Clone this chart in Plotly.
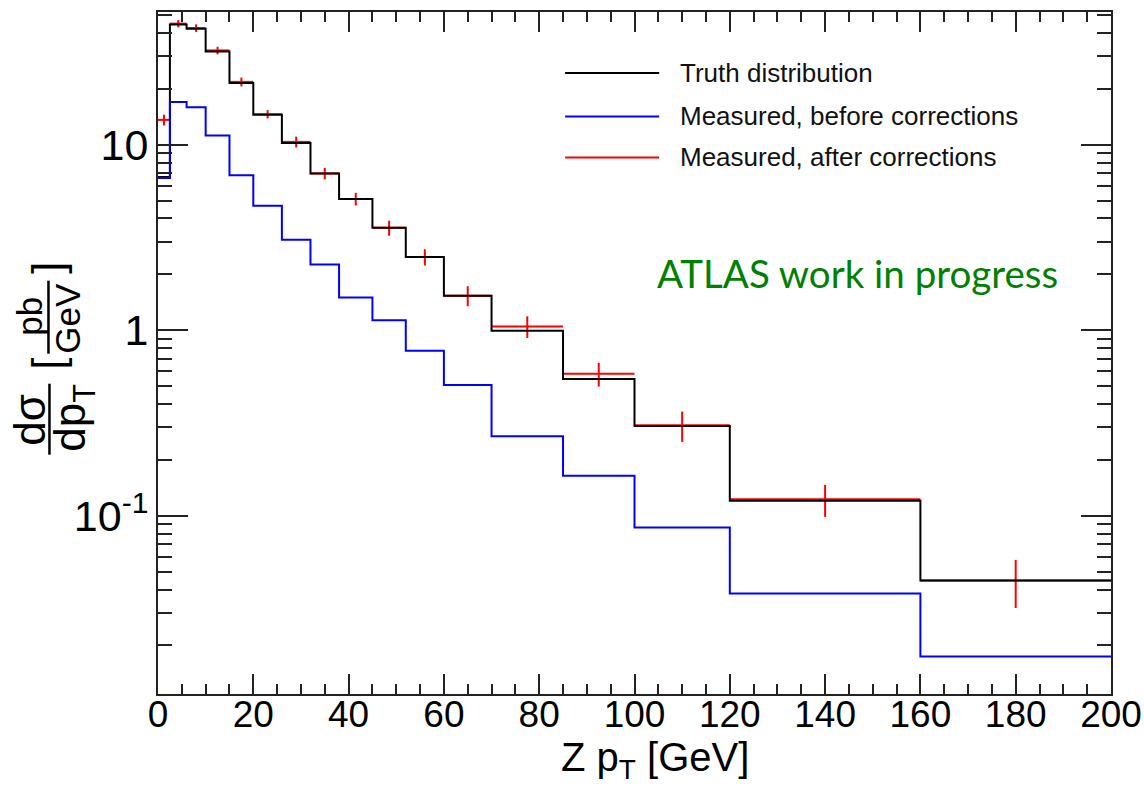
import plotly.graph_objects as go

# ---------------- data ----------------
bin_edges = [0, 2.5, 6, 10, 15, 20, 26, 32, 38, 45, 52, 60, 70, 85, 100, 120, 160, 200]
truth = [6.7, 44.4, 42.1, 31.8, 21.5, 14.5, 10.2, 6.98, 5.09, 3.56, 2.48, 1.535,
         0.994, 0.545, 0.304, 0.1205, 0.0448]
measured_before = [6.61, 17.0, 15.9, 11.2, 6.84, 4.69, 3.07, 2.26, 1.50, 1.13, 0.775,
                   0.506, 0.268, 0.1644, 0.0864, 0.0381, 0.0174]
measured_after = [13.6, 44.9, 42.5, 32.2, 21.8, 14.6, 10.35, 7.0, 5.1, 3.56, 2.48, 1.535,
                  1.048, 0.582, 0.307, 0.1226, 0.0448]
after_err = [0.9, 2.0, 2.0, 1.5, 1.2, 0.75, 0.7, 0.5, 0.4, 0.33, 0.25, 0.19, 0.14,
             0.085, 0.057, 0.024, 0.013]

x_tick_vals = list(range(0, 201, 20))
y_tick_vals = [0.1, 1, 10]
y_tick_text = ["10<sup>-1</sup>", "1", "10"]
y_minor_vals = [m * 10.0 ** k for k in (-2, -1, 0, 1) for m in range(2, 10)]
legend_labels = ["Truth distribution", "Measured, before corrections", "Measured, after corrections"]
colors = ["#000000", "#0000ff", "#ff0000"]

# ---------------- derived ----------------
centers = [(a + b) / 2 for a, b in zip(bin_edges[:-1], bin_edges[1:])]
half_w = [(b - a) / 2 for a, b in zip(bin_edges[:-1], bin_edges[1:])]


def step(vals):
    return list(vals) + [vals[-1]]


fig = go.Figure()
# red corrected measurement first, truth drawn over it (as in the reference)
fig.add_trace(go.Scatter(x=centers, y=measured_after, mode="markers", name=legend_labels[2],
                         marker=dict(size=1, color=colors[2]),
                         error_x=dict(type="data", array=half_w, symmetric=True, width=0,
                                      thickness=2, color=colors[2]),
                         error_y=dict(type="data", array=after_err, symmetric=True, width=0,
                                      thickness=2, color=colors[2])))
fig.add_trace(go.Scatter(x=bin_edges, y=step(truth), mode="lines", name=legend_labels[0],
                         line=dict(color=colors[0], width=2, shape="hv")))
fig.add_trace(go.Scatter(x=bin_edges, y=step(measured_before), mode="lines", name=legend_labels[1],
                         line=dict(color=colors[1], width=2, shape="hv")))

# ---------------- layout ----------------
L, R, T, B = 158, 1110.7, 12.3, 694.3
W, H = 1144, 798
pw, ph = R - L, B - T


def px(xp):
    return (xp - L) / pw


def py(yp):
    return (B - yp) / ph


axis_font = "Liberation Sans, Arial, sans-serif"

fig.update_layout(
    width=W, height=H, showlegend=False,
    margin=dict(l=L, r=W - R, t=T, b=H - B, pad=0, autoexpand=False),
    plot_bgcolor="white", paper_bgcolor="white",
    font=dict(family=axis_font, color="black"),
    xaxis=dict(range=[0, 200], tickmode="array", tickvals=x_tick_vals, automargin=False,
               ticks="inside", ticklen=20, tickwidth=1.5, tickcolor="#222",
               showline=True, linecolor="#222", linewidth=2, mirror="allticks",
               showgrid=False, zeroline=False,
               tickfont=dict(size=37, family=axis_font, color="black"),
               ticklabelstandoff=-13,
               minor=dict(dtick=5, tick0=0, ticks="inside", ticklen=10, tickwidth=1.5,
                          tickcolor="#222", showgrid=False)),
    yaxis=dict(type="log", range=[-1.961, 1.715], tickmode="array", automargin=False,
               tickvals=y_tick_vals, ticktext=y_tick_text,
               ticks="inside", ticklen=30, tickwidth=1.5, tickcolor="#222",
               showline=True, linecolor="#222", linewidth=2, mirror="allticks",
               showgrid=False, zeroline=False,
               tickfont=dict(size=43, family=axis_font, color="black"),
               ticklabelstandoff=-1,
               minor=dict(tickmode="array", tickvals=y_minor_vals, ticks="inside",
                          ticklen=14, tickwidth=1.5, tickcolor="#222", showgrid=False)),
)

shapes = []
annotations = []

# manual legend (long ROOT-style line samples)
leg_rows = [73.3, 116.7, 157.7]
for lab, col, yr in zip(legend_labels, colors, leg_rows):
    shapes.append(dict(type="line", xref="paper", yref="paper", x0=px(565), x1=px(659),
                       y0=py(yr), y1=py(yr), line=dict(color=col, width=2)))
    annotations.append(dict(text=lab, xref="paper", yref="paper", x=px(678), y=py(yr),
                            xanchor="left", yanchor="middle", showarrow=False,
                            font=dict(size=26, family=axis_font, color="#111")))

# ATLAS label
annotations.append(dict(text="ATLAS work in progress", xref="paper", yref="paper",
                        x=px(857.5), y=py(273), xanchor="center", yanchor="middle",
                        showarrow=False, font=dict(size=38.5, family="Lato, sans-serif",
                                                   color="#008000")))

# x-axis title
annotations.append(dict(text="Z p<sub>T</sub> [GeV]", xref="paper", yref="paper",
                        x=px(655), y=py(760), xanchor="center", yanchor="middle",
                        showarrow=False, font=dict(size=40, family=axis_font, color="black")))

# y-axis title built as rotated fractions
ytitle_parts = [
    ("d\u03c3", 30, 420, 44),
    ("dp<sub>T</sub>", 73, 418, 44),
    ("pb", 30, 316, 35),
    ("GeV", 68, 318, 35),
    ("[", 48, 364, 44),
    ("]", 48, 268, 44),
]
for txt, xx, yy, fs in ytitle_parts:
    annotations.append(dict(text=txt, xref="paper", yref="paper", x=px(xx), y=py(yy),
                            xanchor="center", yanchor="middle", textangle=-90,
                            showarrow=False, font=dict(size=fs, family=axis_font, color="black")))
shapes.append(dict(type="line", xref="paper", yref="paper", x0=px(49.5), x1=px(49.5),
                   y0=py(384), y1=py(455), line=dict(color="black", width=2.5)))
shapes.append(dict(type="line", xref="paper", yref="paper", x0=px(48.5), x1=px(48.5),
                   y0=py(281), y1=py(354), line=dict(color="black", width=2.5)))

fig.update_layout(shapes=shapes, annotations=annotations)
fig.write_html("out.html")
